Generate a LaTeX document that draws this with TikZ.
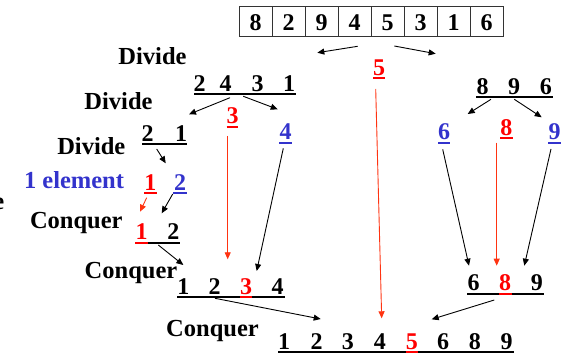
\documentclass[tikz,border=0pt]{standalone}
\usepackage{fontspec}
\setmainfont{Liberation Serif}
\usetikzlibrary{arrows.meta}
\definecolor{tred}{RGB}{255,0,0}
\definecolor{tblue}{RGB}{51,51,204}
\definecolor{lred}{RGB}{255,51,17}
\tikzset{
  num/.style={font=\fontsize{24}{24}\selectfont\bfseries, anchor=base, inner sep=0pt},
  lbl/.style={font=\fontsize{24.5}{25}\selectfont\bfseries, anchor=base, inner sep=0pt},
  cell/.style={draw=black!80, line width=0.9pt, minimum width=33pt, minimum height=30pt, inner sep=0pt,
               text height=20pt, text depth=0pt, font=\fontsize{24}{24}\selectfont\bfseries},
  arr/.style={-{Triangle[length=7pt,width=6pt]}, line width=0.9pt},
  rarr/.style={arr, draw=lred},
  ul/.style={line width=2pt, line cap=butt},
}
\begin{document}
\begin{tikzpicture}[x=1pt,y=-1pt]
\useasboundingbox (0,0) rectangle (571,355);

% array
\foreach \v [count=\i] in {8,2,9,4,5,3,1,6}{
  \node[cell] (c\i) at ({239+33*(\i-0.5)},21) {\v};
}

% labels
\node[lbl] (div1) at (152.5,65) {Divide};
\node[lbl] (div2) at (118.5,110) {Divide};
\node[lbl] (div3) at (91.3,155) {Divide};
\node[lbl, text=tblue] (elem) at (74,188.3) {1 element};
\node[lbl] (conq1) at (76.3,228.3) {Conquer};
\node[lbl] (conq2) at (131,278.3) {Conquer};
\node[lbl] (conq3) at (212.5,336.7) {Conquer};
\node[lbl, anchor=base east] (cut) at (4.5,210) {e};

% row 2 4 3 1
\node[num] (l1) at (199.5,91.7) {2};
\node[num] (l2) at (225.5,91.7) {4};
\node[num] (l3) at (257.5,91.7) {3};
\node[num] (l4) at (289,91.7) {1};
\draw[ul] (194,94) -- (296,94);

% pivot 5
\node[num, text=tred] (p5) at (379,76) {5};
\draw[ul, tred] (373,78.5) -- (385,78.5);

% row 8 9 6
\node[num] (r1) at (482.5,94.3) {8};
\node[num] (r2) at (514.2,94.3) {9};
\node[num] (r3) at (545.8,94.3) {6};
\draw[ul] (476,97) -- (552.7,97);

% left second level
\node[num, text=tred] (p3) at (232.5,124) {3};
\draw[ul, tred] (226.7,127) -- (238.3,127);
\node[num, text=tblue] (b4) at (285.5,140) {4};
\draw[ul, tblue] (279,143) -- (292,143);
\node[num] (m1) at (147.7,141.7) {2};
\node[num] (m2) at (181,141.7) {1};
\draw[ul] (142,144) -- (187,144);

% right second level
\node[num, text=tblue] (b6) at (444.2,140) {6};
\draw[ul, tblue] (438.3,143) -- (450,143);
\node[num, text=tred] (p8) at (506.3,136) {8};
\draw[ul, tred] (500,138.5) -- (512.7,138.5);
\node[num, text=tblue] (b9) at (554.5,140) {9};
\draw[ul, tblue] (548.3,143) -- (560.7,143);

% 1 element
\node[num, text=tred] (e1) at (150.3,190.5) {1};
\draw[ul, tred] (144,193.3) -- (156.7,193.3);
\node[num, text=tblue] (e2) at (180,190.5) {2};
\draw[ul, tblue] (173.3,193.3) -- (186.7,193.3);

% 1 2
\node[num, text=tred] (k1) at (141.7,240) {1};
\node[num] (k2) at (173.3,240) {2};
\draw[ul, tred] (135,243.5) -- (148,243.5);
\draw[ul] (148,243.5) -- (180,243.5);

% 1 2 3 4
\node[num] (s1) at (183.3,295) {1};
\node[num] (s2) at (214.7,295) {2};
\node[num, text=tred] (s3) at (246,295) {3};
\node[num] (s4) at (277.5,295) {4};
\draw[ul] (177.3,297.5) -- (240,297.5);
\draw[ul, tred] (240,297.5) -- (252.3,297.5);
\draw[ul] (252.3,297.5) -- (285,297.5);

% 6 8 9
\node[num] (t1) at (473.5,290.5) {6};
\node[num, text=tred] (t2) at (505.2,290.5) {8};
\node[num] (t3) at (536.8,290.5) {9};
\draw[ul] (467.3,294) -- (499.3,294);
\draw[ul, tred] (499.3,294) -- (511.7,294);
\draw[ul] (511.7,294) -- (544,294);

% bottom row
\foreach \v/\x/\n in {1/284.2/f1,2/316.5/f2,3/347.8/f3,4/379.8/f4,6/443.2/f6,8/474.8/f7,9/506.7/f8}{
  \node[num] (\n) at (\x,350) {\v};
}
\node[num, text=tred] (f5) at (411.8,350) {5};
\draw[ul] (278.3,352.5) -- (406,352.5);
\draw[ul, tred] (406,352.5) -- (417.7,352.5);
\draw[ul] (417.7,352.5) -- (514,352.5);

% connector ends
\coordinate (a1s) at (357.7,46.3);  \coordinate (a1e) at (317.3,52.7);
\coordinate (a2s) at (394.3,46);    \coordinate (a2e) at (435.7,53.7);
\coordinate (a3s) at (230,97.7);    \coordinate (a3e) at (189,114.3);
\coordinate (a4s) at (243.3,96.3);  \coordinate (a4e) at (277.7,109.3);
\coordinate (a5s) at (156.7,149);   \coordinate (a5e) at (165.7,163.3);
\coordinate (a6s) at (146.7,197.7); \coordinate (a6e) at (140,211.7);
\coordinate (a7s) at (172.7,194);   \coordinate (a7e) at (161.7,213.3);
\coordinate (a8s) at (158.3,245);   \coordinate (a8e) at (183.3,265);
\coordinate (a9s) at (215,298.3);   \coordinate (a9e) at (320.7,319);
\coordinate (a10s) at (494.3,300);  \coordinate (a10e) at (431.7,319.3);
\coordinate (a11s) at (375.7,89);   \coordinate (a11e) at (381.7,318.3);
\coordinate (a12s) at (227.7,136);  \coordinate (a12e) at (227.7,259.3);
\coordinate (a13s) at (283.3,148.3);\coordinate (a13e) at (256.7,271);
\coordinate (a14s) at (491,99.3);   \coordinate (a14e) at (467.7,114);
\coordinate (a15s) at (514.3,99.3); \coordinate (a15e) at (541.7,117.3);
\coordinate (a16s) at (442.7,149.3);\coordinate (a16e) at (469,265.7);
\coordinate (a17s) at (496.7,142.7);\coordinate (a17e) at (496.7,265.7);
\coordinate (a18s) at (551,149);    \coordinate (a18e) at (524.3,265.7);

\foreach \k in {1,2,3,4,5,7,8,9,10,13,14,15,16,18}{
  \draw[arr] (a\k s) -- (a\k e);
}
\foreach \k in {6,11,12,17}{
  \draw[rarr] (a\k s) -- (a\k e);
}
\end{tikzpicture}
\end{document}
